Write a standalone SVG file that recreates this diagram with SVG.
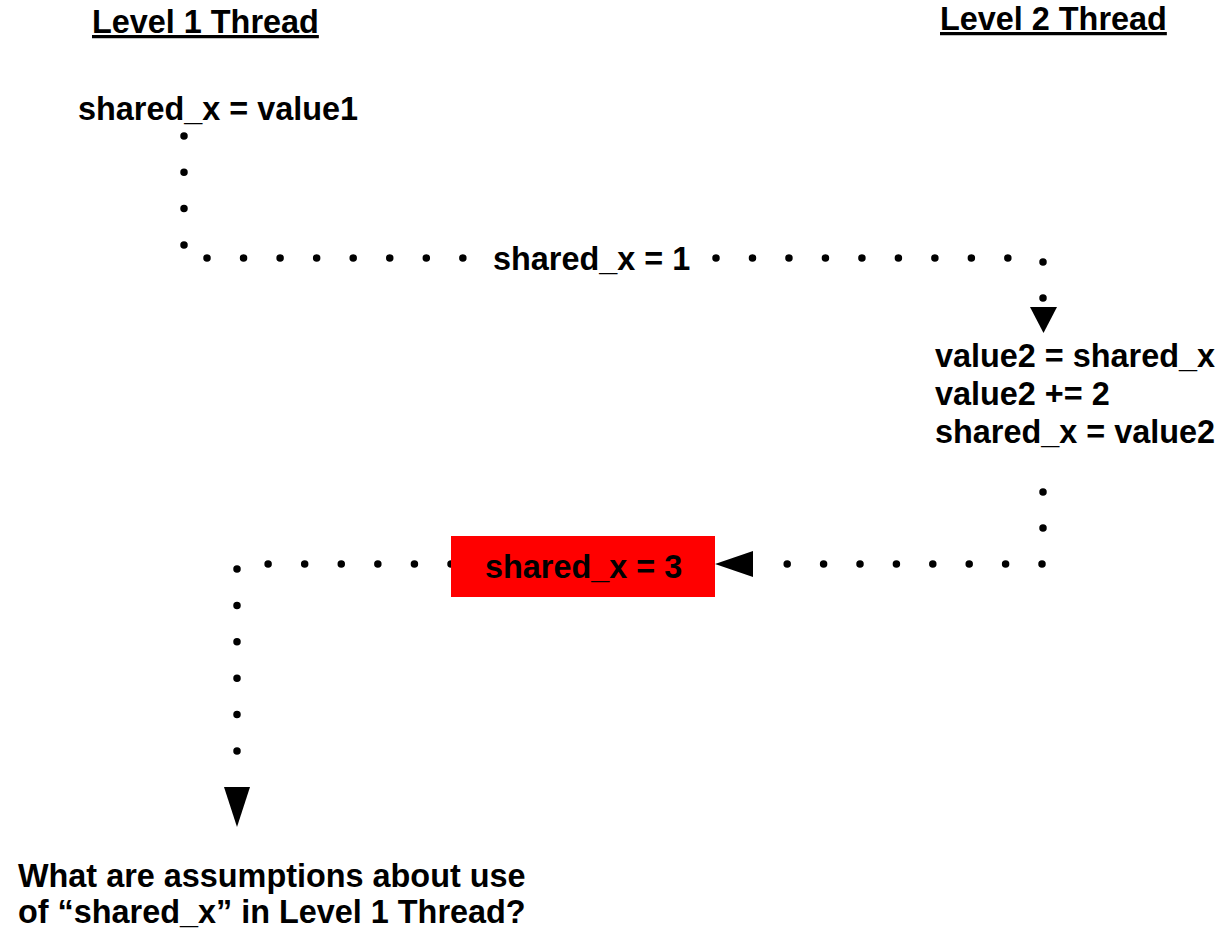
<svg xmlns="http://www.w3.org/2000/svg" width="1229" height="937" viewBox="0 0 1229 937">
  <style>
    text { font-family: "Liberation Sans", Arial, sans-serif; font-weight: bold; font-size: 32.4px; fill: #000; }
    .dots { fill: none; stroke: #000; stroke-width: 7.5; stroke-linecap: round; }
    .head { fill: #000; }
  </style>
  <rect width="1229" height="937" fill="#fff"/>

  <!-- column headings -->
  <g id="heading-level1">
    <text x="92" y="33" text-decoration="underline">Level 1 Thread</text>
  </g>
  <g id="heading-level2">
    <text x="940" y="30" text-decoration="underline">Level 2 Thread</text>
  </g>

  <!-- round-dot connectors with arrowheads (gap a hair under segment/n so the end dot is kept) -->
  <g id="connectors">
    <path class="dots" d="M184 136 V245" stroke-dasharray="0 36.3"/>
    <path class="dots" d="M207 258 H463" stroke-dasharray="0 36.55"/>
    <path class="dots" d="M716 258 H1008" stroke-dasharray="0 36.48"/>
    <path class="dots" d="M1043 262 V298" stroke-dasharray="0 35.98"/>
    <polygon class="head" points="1030,307 1057,307 1043.5,333"/>

    <path class="dots" d="M1043 492 V528" stroke-dasharray="0 35.98"/>
    <path class="dots" d="M1042 564 H787" stroke-dasharray="0 36.4"/>
    <polygon class="head" points="715,564 753,551 753,577"/>

    <path class="dots" d="M451 564 H268" stroke-dasharray="0 36.58"/>
    <path class="dots" d="M237 569 V751" stroke-dasharray="0 36.38"/>
    <polygon class="head" points="224,787 250,787 237,827"/>
  </g>

  <g id="node-write-value1">
    <text x="78" y="120">shared_x = value1</text>
  </g>

  <g id="label-shared-1">
    <text x="493" y="270">shared_x = 1</text>
  </g>

  <g id="node-level2-update">
    <text x="935" y="367">value2 = shared_x</text>
    <text x="935" y="405">value2 += 2</text>
    <text x="935" y="443">shared_x = value2</text>
  </g>

  <g id="node-shared-3">
    <rect x="451" y="536" width="264" height="61" fill="#ff0000"/>
    <text x="485" y="578">shared_x = 3</text>
  </g>

  <g id="question">
    <text x="18" y="887">What are assumptions about use</text>
    <text x="18" y="923">of “shared_x” in Level 1 Thread?</text>
  </g>
</svg>
